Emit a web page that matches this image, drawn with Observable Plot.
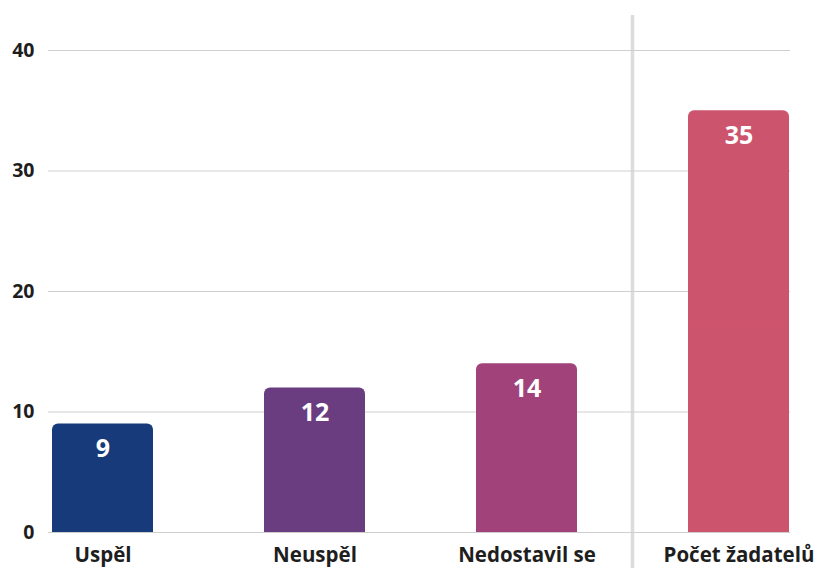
<!DOCTYPE html>
<html>
<head>
<meta charset="utf-8">
<script src="https://cdn.jsdelivr.net/npm/d3@7"></script>
<script src="https://cdn.jsdelivr.net/npm/@observablehq/plot@0.6"></script>
<style>
  html, body { margin: 0; padding: 0; background: #fff; }
  #chart svg { display: block; }
</style>
</head>
<body>
<div id="chart"></div>
<script>
const categories = ["Uspěl", "Neuspěl", "Nedostavil se", "Počet žadatelů"];
const values = [9, 12, 14, 35];
const colors = ["#173a7b", "#6a3d80", "#a1437a", "#cd546d"];
const yTicks = [0, 10, 20, 30, 40];

const data = categories.map((c, i) => ({category: c, value: values[i], color: colors[i]}));

const chart = Plot.plot({
  width: 819,
  height: 568,
  marginLeft: 51,
  marginRight: 29,
  marginTop: 50,
  marginBottom: 36,
  style: {fontFamily: "'Open Sans', sans-serif", fontSize: "19.5px", fontWeight: 700, color: "#1e1e1e", background: "#fff"},
  x: {domain: categories, paddingInner: 0.525, paddingOuter: 0, label: null},
  y: {domain: [0, 40], ticks: yTicks, label: null},
  marks: [
    Plot.ruleY(yTicks, {stroke: "#cfcfcf", strokeWidth: 1, insetLeft: -3}),
    Plot.barY(data, {x: "category", y: "value", fill: "color", rx: 6}),
    Plot.barY(data, {x: "category", y1: 0, y2: d => d.value / 2, fill: "color"}),
    Plot.text(data, {x: "category", y: "value", text: d => String(d.value), fill: "#fff", fontSize: 25, fontWeight: 700, dy: 25}),
    Plot.axisY({ticks: yTicks, tickSize: 0, tickPadding: 17, fontSize: 19.5, fontWeight: 700, label: null}),
    Plot.axisX({tickSize: 0, tickPadding: 15, fontSize: 20.5, fontWeight: 700, label: null})
  ]
});

document.getElementById("chart").appendChild(chart);

// separator between the first three categories and the total
const xs = chart.scale("x");
const bw = xs.bandwidth;
const xEnd = xs.apply(categories[2]) + bw;
const xStart = xs.apply(categories[3]);
const sepX = (xEnd + xStart) / 2;
d3.select(chart).insert("line", ":first-child")
  .attr("x1", sepX).attr("x2", sepX)
  .attr("y1", 15).attr("y2", 568)
  .attr("stroke", "#dcdcdc").attr("stroke-width", 3.5);
</script>
</body>
</html>
